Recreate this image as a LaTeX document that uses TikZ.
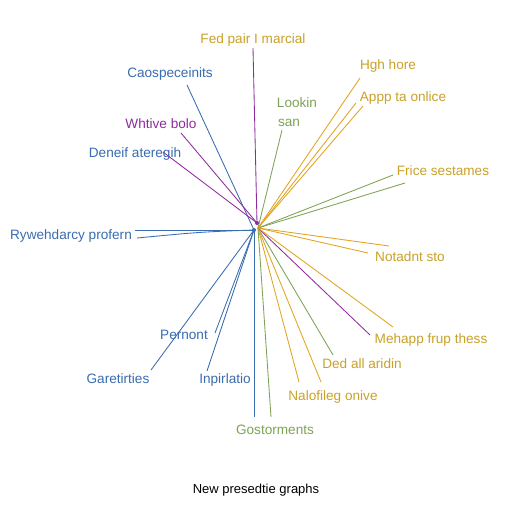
\documentclass[tikz,border=0pt]{standalone}
\usepackage{fontspec}
\setmainfont{Liberation Sans}
\definecolor{cblue}{HTML}{3A6CB0}
\definecolor{cpurp}{HTML}{8E2C9E}
\definecolor{corng}{HTML}{E2A41E}
\definecolor{cgold}{HTML}{C9A227}
\definecolor{cgrn}{HTML}{7FA356}
\begin{document}
\begin{tikzpicture}[x=1pt,y=-1pt,
  lbl/.style={font=\fontsize{13.6}{15}\selectfont, inner sep=0pt, anchor=center},
  ray/.style={line width=0.85pt}]
\useasboundingbox (0,0) rectangle (512,512);
\fill[white] (0,0) rectangle (512,512);
\coordinate (cm) at (257,223);
\coordinate (cb) at (254,230);
\coordinate (cc) at (258,228);
% labels
\node[lbl, text=cgold] (fed) at (253,40) {Fed pair I marcial};
\node[lbl, text=cblue] (cao) at (170,74) {Caospeceinits};
\node[lbl, text=cpurp] (wht) at (161,124) {Whtive bolo};
\node[lbl, text=cblue] (den) at (135,154) {Deneif ateregih};
\node[lbl, text=cblue] (ryw) at (71,236) {Rywehdarcy profern};
\node[lbl, text=cgrn] (lok) at (297,103) {Lookin};
\node[lbl, text=cgrn] (san) at (289,123) {san};
\node[lbl, text=cgold] (hgh) at (388,66) {Hgh hore};
\node[lbl, text=cgold] (app) at (403,98) {Appp ta onlice};
\node[lbl, text=cgold] (fri) at (443,171) {Frice sestames};
\node[lbl, text=cgold] (not) at (410,257) {Notadnt sto};
\node[lbl, text=cgold] (meh) at (431,340) {Mehapp frup thess};
\node[lbl, text=cgold] (ded) at (362,364) {Ded all aridin};
\node[lbl, text=cgold] (nal) at (333,397) {Nalofileg onive};
\node[lbl, text=cgrn] (gos) at (275,430) {Gostorments};
\node[lbl, text=cblue] (inp) at (225,380) {Inpirlatio};
\node[lbl, text=cblue] (per) at (184,335) {Pernont};
\node[lbl, text=cblue] (gar) at (118,379) {Garetirties};
\node[font=\fontsize{13}{15}\selectfont, inner sep=0pt] (ttl) at (256,490) {New presedtie graphs};
% free ends
\coordinate (e1) at (253,48);
\coordinate (e2) at (187,85);
\coordinate (e3) at (181,133);
\coordinate (e4) at (163,152);
\coordinate (e5a) at (135,230);
\coordinate (e5b) at (137,238);
\coordinate (e6) at (282,130);
\coordinate (e7) at (360,78);
\coordinate (e8a) at (356,103);
\coordinate (e8b) at (363,106);
\coordinate (e9a) at (393,175);
\coordinate (e9b) at (405,183);
\coordinate (e10a) at (389,246);
\coordinate (e10b) at (368,253);
\coordinate (e11a) at (370,335);
\coordinate (e11b) at (393,327);
\coordinate (e12) at (333,355);
\coordinate (e13a) at (299,382);
\coordinate (e13b) at (321,382);
\coordinate (e14a) at (271,417);
\coordinate (e14b) at (254,417);
\coordinate (e15) at (207,371);
\coordinate (e16) at (215,333);
\coordinate (e17) at (151,370);
% rays
\draw[ray, cpurp] (e1) -- (cm);
\draw[ray, cblue] (e2) -- (cb);
\draw[ray, cpurp] (e3) -- (cm);
\draw[ray, cpurp] (e4) -- (cm);
\draw[ray, cblue] (e5a) -- (cb);
\draw[ray, cblue] (e5b) .. controls (200,232) .. (cb);
\draw[ray, cgrn] (e6) -- (cc);
\draw[ray, corng] (e7) -- (cc);
\draw[ray, corng] (e8a) -- (cc);
\draw[ray, corng] (e8b) -- (cc);
\draw[ray, cgrn] (e9a) -- (cc);
\draw[ray, cgrn] (e9b) -- (cc);
\draw[ray, corng] (e10a) -- (cc);
\draw[ray, corng] (e10b) -- (cc);
\draw[ray, cpurp] (e11a) -- (cc);
\draw[ray, corng] (e11b) -- (cc);
\draw[ray, cgrn] (e12) -- (cc);
\draw[ray, corng] (e13a) -- (cc);
\draw[ray, corng] (e13b) -- (cc);
\draw[ray, cgrn] (e14a) -- (cc);
\draw[ray, cblue] (e14b) -- (cb);
\draw[ray, cblue] (e15) -- (cb);
\draw[ray, cblue] (e16) -- (cb);
\draw[ray, cblue] (e17) -- (cb);
\fill[cpurp] (cm) circle (2pt);
\fill[cblue] (cb) circle (2pt);
\end{tikzpicture}
\end{document}
